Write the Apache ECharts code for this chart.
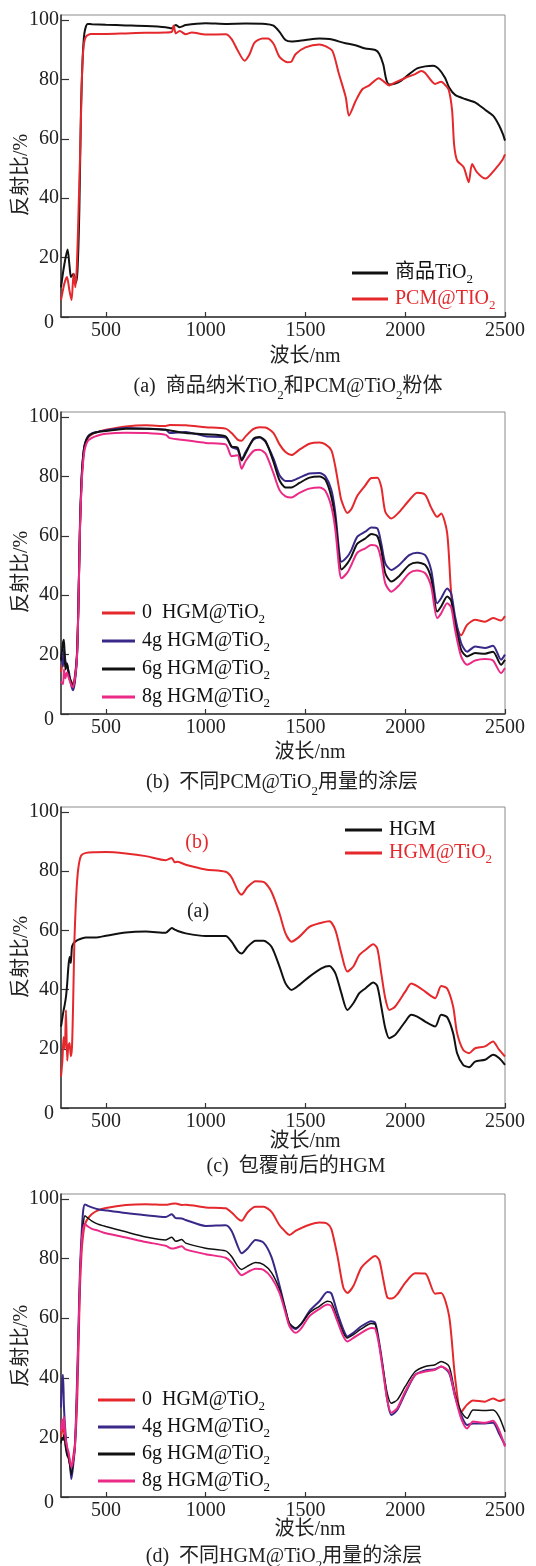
<!DOCTYPE html>
<html><head><meta charset="utf-8">
<script src="https://cdn.jsdelivr.net/npm/echarts@6/dist/echarts.min.js"></script>
<style>html,body{margin:0;padding:0;background:#fff}#c{width:536px;height:1566px}</style>
</head><body><div id="c"></div>
<script>
// ---------- data ----------
const xTicks = [500, 1000, 1500, 2000, 2500];
const yTicks = [0, 20, 40, 60, 80, 100];

// (a)
const aBlackX = [275,290,308,318,325,338,350,358,367,375,383,392,408,430,500,600,700,800,830,850,870,900,1000,1100,1200,1300,1340,1370,1400,1430,1500,1570,1620,1700,1750,1800,1850,1870,1890,1905,1920,1950,1980,2020,2060,2100,2140,2170,2200,2220,2250,2300,2350,2400,2440,2470,2490,2500];
const aBlackY = [10,17,22.7,17,13.5,14.6,11.5,16,36,69.6,86.4,95.4,98.7,98.6,98.4,98.2,98,97.6,97.2,98.3,97.6,98.3,98.9,98.7,98.8,98.7,98.1,96,93.3,92.8,93.3,93.8,93.6,92.2,91.5,90.4,89.9,88.6,85,80,78.3,78.6,79.6,81.8,83.7,84.4,84.6,83.4,80.5,77.3,74.8,73.4,72.3,69.8,67.8,64.6,61.5,59.4];
const aRedX = [275,292,305,317,328,338,347,355,363,372,380,388,400,425,500,600,700,800,830,840,850,870,900,930,1000,1100,1130,1160,1195,1220,1245,1285,1310,1340,1370,1410,1430,1450,1500,1570,1600,1635,1668,1702,1718,1752,1785,1818,1868,1898,1920,1950,2000,2050,2080,2100,2150,2180,2202,2218,2235,2245,2260,2293,2318,2335,2360,2402,2452,2485,2500];
const aRedY = [5.7,11.3,13.5,9,5.7,14.6,10,18,36,58,81,91,94.4,95.3,95.3,95.5,95.7,95.8,96,98.2,95.5,96.3,95.2,95.8,95.1,95.2,93.6,89.8,86.3,88.5,92.4,93.8,93.8,92,87.6,85.8,86,88.5,90.8,91.8,91.2,89.6,81.8,74,67.8,72.8,76.7,77.9,80.4,79,78,79,80.5,81.8,82.8,82.2,78.5,79.2,78,76.5,69.5,58,52.7,50.4,45.4,51.5,48.7,46.6,49.9,52.7,54.8];

// (b)
const bX = [275,285,290,297,305,315,325,335,345,355,362,370,378,386,395,410,430,460,500,600,700,800,820,900,1000,1100,1130,1160,1180,1200,1240,1270,1300,1340,1370,1400,1430,1470,1520,1570,1600,1630,1650,1670,1680,1710,1730,1760,1800,1830,1860,1880,1900,1930,1970,2020,2060,2100,2130,2160,2180,2210,2230,2250,2280,2310,2350,2400,2440,2480,2500];
const b0Y = [14,18,20,16,17,12,11,10,13,20,36,62,78,86,90.5,93,94.2,95,95.7,96.8,97.2,97,97.3,97.2,96.6,96.1,94.6,92.4,92,93.5,96,96.6,96.5,94.6,90.8,88.2,87.2,89,91,91.4,90.8,88.8,83.2,75.4,72,67.7,69,73.5,77,79.5,79.6,76.5,68.1,65.8,68,72,74.5,73.8,69.5,66.4,67.5,61,41,31,26.5,30,31.7,31.1,32.3,31.5,33];
const b4Y = [20,16,22,18,16,14,10,8,11,19,36,64,79,87,91,93.5,94.5,95,95.5,96.3,96.1,95.7,94.6,95,93.5,93.1,89.9,89,85.7,88.2,92.4,93.1,91.6,86,80.4,78.5,78.5,79.6,81,81.2,80,75.4,67.5,54.1,51.3,53,55.2,59.7,61.4,62.8,62.5,57.4,50.7,48.5,50.2,53.5,54.3,53.5,48.5,37.3,39,42.3,40.6,32.8,23.9,21,22.7,22.2,23,18.3,20];
const b6Y = [18,24,25,15,17,13,11,9,12,20,36,63,79,87,91,93.3,94.4,95,95.3,96.1,96.1,95.7,95.5,94.6,94.2,93.5,90.1,89.7,85.4,87.7,92.7,93.3,91.9,84.9,78.7,76.3,76.3,77.8,79.6,80,78.9,73.1,65.3,51.8,48.7,50.7,53,57.4,59.1,60.6,59.9,55.2,47.4,44.6,46.5,50.2,51,50.2,45.7,34.5,36.2,39.6,38.2,30.6,21.6,19.4,20.5,20.3,21,16.6,18.3];
const b8Y = [11,10,15,12,14,12,10,9,12,19,35,62,77,85,89.5,92,93,93.8,94.4,94.7,94.6,94,92.9,92.2,91.3,90.8,86.8,87.1,82.6,85.2,88.6,89,87.7,81,75.4,73.3,72.9,74.5,75.9,76.3,75.1,69.8,61.9,48.5,45.7,47.6,50.2,54.3,55.8,56.9,56.3,51.8,44,41.2,43.4,47.4,48.3,47.4,42.9,32.3,33.9,37.3,36,28.3,19.4,16.6,18,18.5,18,13.8,15.5];

// (c)
const cX = [275,282,288,294,300,306,312,318,324,330,336,342,350,360,375,400,450,500,600,700,800,830,845,860,900,1000,1100,1130,1160,1180,1210,1250,1290,1330,1370,1400,1430,1470,1520,1580,1620,1650,1680,1710,1740,1770,1800,1840,1860,1880,1900,1920,1950,2000,2030,2060,2100,2150,2180,2210,2240,2260,2290,2320,2350,2400,2440,2470,2500];
const cHgmY = [27.5,30.5,33,35,37.6,42,47.7,51,49,54.5,55.4,56,56.4,56.8,57.2,57.6,57.6,58.2,59.3,59.6,59.2,60.8,60.3,59.8,59,58.1,58.1,56.2,53.1,52.2,54.5,56.5,56.5,54.5,47.8,42.1,39.9,41.6,44.4,47.2,48,45.5,38.8,33.1,35.4,38.8,40.4,42.4,41.2,34.3,27,23.6,24.7,29.2,31.5,30.9,29.2,27.5,31.5,30.7,25.3,18.5,14.6,13.8,15.7,16.3,18,16.9,14.6];
const cTiY = [10.6,16,24,20,33,16,21,22,17.5,20.5,36,56,70,80,85.2,86.2,86.4,86.5,86,85.1,83.7,84.5,83,83.2,82.2,80.6,79.8,77.9,73.6,72.1,74.7,76.6,76.4,73,65.7,59,56.2,57.9,61.2,62.6,63.1,60.1,52.2,46.1,47.8,51.7,53.4,55.3,53.9,45.5,37.1,33.1,34.3,39.3,42.1,41.2,39.3,37.1,41.2,40.4,34.3,25.3,19.7,18.5,20.2,20.8,22.5,19.7,17.4];

// (d)
const dX = [275,280,285,290,297,305,313,320,327,335,345,355,362,370,378,386,395,410,430,460,500,600,700,800,830,850,880,900,1000,1100,1130,1160,1180,1210,1250,1290,1330,1370,1400,1420,1450,1480,1520,1570,1610,1630,1660,1690,1710,1740,1780,1830,1850,1870,1890,1910,1930,1960,2000,2050,2100,2150,2180,2220,2250,2280,2310,2340,2400,2440,2470,2500];
const d0Y = [20,22,24,22,18,15,13,11,10,13,18,30,48,70,82,88,91.5,93.5,95,96.2,97,98,98.3,98.1,98.4,98.5,98,98.1,97.2,96.9,95.5,93.5,92.7,95.5,97.4,97.4,95.7,91.2,89,87.9,89.3,90.3,91.4,92.1,91.7,89.9,81,70.2,68.5,70.8,77,80.2,80.9,79.5,73,67,66.6,68,71.9,75.1,75,68.2,68.5,60.7,40,28.5,31,32.4,32,33.1,32.2,32.8];
const d4Y = [30,38,41,30,22,16,14,11,6,10,17,38,55,76,88,96,98.2,97.7,97.2,96.6,96.2,95.3,94.6,94,94.9,93.6,93.5,93,91,91.2,89.3,84.3,81.8,83.4,86.3,85.4,80.5,71,62.9,57.9,56.4,58.2,62.4,65.7,68.8,68.3,61.8,56.2,53.9,55.1,57.3,59,58.4,51.7,42.7,32.6,27.5,29.2,34.8,41,42.5,42.9,43.8,41.6,33.7,27.5,24.2,24.7,24.7,24.9,21.3,17.4];
const d6Y = [18,20,19,21,17,14,13,10,7.5,11,17,36,54,74,86,91.5,94.4,93.6,92.6,91.6,90.8,89,87.3,86.3,87.2,85.8,86.4,85.2,83.5,82.6,80.7,77.5,76.4,77.5,78.7,78,75.3,69.7,62.9,58.4,56.7,58.2,61.8,64,65.7,65.3,60.1,55.1,53.4,54.5,56.4,58.2,57.9,51.1,42.7,34.8,31.5,32.6,37.1,42.1,43.8,44.4,45.5,43.8,34.8,28.7,26.4,29.2,29,29.2,27,21.9];
const d8Y = [22,26,23,27,20,17,15,12,10,12,17,35,53,73,85,90,91.6,90.8,90,89.4,88.5,87.1,85.6,84.3,83.4,83.6,84.2,83.1,81.5,80.3,78.7,75.8,74.4,75.5,76.6,76.2,73.6,68.5,61.8,57.3,55.1,56.7,60.7,63.1,64.6,64,59,53.9,52.2,53.4,55.1,56.7,56.4,50.6,41.6,32.6,28.3,29.8,35.4,41,42.1,42.7,43.8,42.1,33.7,26.4,23,25.3,24.9,25.6,22.5,16.9];

// ---------- style ----------
const FONT = "'Liberation Serif','Times New Roman','Noto Sans CJK SC',serif";
const RED = '#e4282c', BLUE = '#3a2888', BLACK = '#111111', PINK = '#ea2a86';
const SUB = { fontSize: 13, fontFamily: FONT, verticalAlign: 'top', padding: [12, 0, 0, 0], lineHeight: 13 };

const LABELS = {
  a1: '商品TiO{s|2}', a2: 'PCM@TIO{s|2}',
  b0: '0  HGM@TiO{s|2}', b4: '4g HGM@TiO{s|2}', b6: '6g HGM@TiO{s|2}', b8: '8g HGM@TiO{s|2}',
  c1: 'HGM', c2: 'HGM@TiO{s|2}',
  d0: '0  HGM@TiO{s|2}', d4: '4g HGM@TiO{s|2}', d6: '6g HGM@TiO{s|2}', d8: '8g HGM@TiO{s|2}'
};

function zip(xs, ys) { return xs.map((x, i) => [x, ys[i]]); }

const GRIDS = [
  { left: 61, top: 15, width: 444, height: 302 },
  { left: 61, top: 412, width: 444, height: 302 },
  { left: 61, top: 807, width: 444, height: 301 },
  { left: 61, top: 1194, width: 444, height: 303 }
];

const grids = GRIDS.map(g => Object.assign({ show: true, borderColor: '#8a8a8a', borderWidth: 1, backgroundColor: 'transparent' }, g));

const xAxes = GRIDS.map((g, i) => ({
  type: 'value', gridIndex: i, min: 275, max: 2500,
  axisLine: { show: true, lineStyle: { color: '#333', width: 1.5 } },
  axisTick: { show: true, inside: true, length: 5, customValues: xTicks, lineStyle: { color: '#333', width: 1.2 } },
  axisLabel: { customValues: xTicks, margin: 4, color: '#222', fontFamily: FONT, fontSize: 20, formatter: v => String(v) },
  splitLine: { show: false }
}));

const yAxes = GRIDS.map((g, i) => ({
  type: 'value', gridIndex: i, min: 0, max: 101.7,
  axisLine: { show: true, lineStyle: { color: '#333', width: 1.5 } },
  axisTick: { show: true, inside: true, length: 8, customValues: yTicks, lineStyle: { color: '#333', width: 1.2 } },
  axisLabel: {
    customValues: yTicks, margin: 2, color: '#222', fontFamily: FONT, fontSize: 20,
    formatter: v => v === 0 ? '{z|0}' : String(v),
    rich: { z: { fontFamily: FONT, fontSize: 20, color: '#222', padding: [12, 5, 0, 0] } }
  },
  splitLine: { show: false }
}));

function line(name, idx, xs, ys, color, w) {
  return {
    name: name, type: 'line', xAxisIndex: idx, yAxisIndex: idx,
    data: zip(xs, ys), showSymbol: false, symbol: 'none', smooth: 0.25,
    lineStyle: { color: color, width: w || 2 }, itemStyle: { color: color },
    animation: false
  };
}

const series = [
  line('a1', 0, aBlackX, aBlackY, BLACK),
  line('a2', 0, aRedX, aRedY, RED),
  line('b0', 1, bX, b0Y, RED),
  line('b4', 1, bX, b4Y, BLUE),
  line('b6', 1, bX, b6Y, BLACK),
  line('b8', 1, bX, b8Y, PINK),
  line('c1', 2, cX, cHgmY, BLACK),
  line('c2', 2, cX, cTiY, RED),
  line('d0', 3, dX, d0Y, RED),
  line('d4', 3, dX, d4Y, BLUE),
  line('d6', 3, dX, d6Y, BLACK, 1.5),
  line('d8', 3, dX, d8Y, PINK)
];

function legend(names, colors, left, top, w, gap) {
  return {
    orient: 'vertical', left: left, top: top, itemWidth: w, itemHeight: 3, itemGap: gap,
    icon: 'rect', selectedMode: false,
    data: names.map((n, i) => ({ name: n, textStyle: { color: colors[i] } })),
    formatter: n => LABELS[n],
    textStyle: { fontFamily: FONT, fontSize: 20, lineHeight: 24, padding: [0, 0, 0, 2], rich: { s: SUB } }
  };
}

const legends = [
  legend(['a1', 'a2'], [BLACK, RED], 347, 256, 36, 1),
  legend(['b0', 'b4', 'b6', 'b8'], ['#111', '#111', '#111', '#111'], 97, 596, 33, 3),
  legend(['c1', 'c2'], [BLACK, RED], 340, 813, 37, -1),
  legend(['d0', 'd4', 'd6', 'd8'], ['#111', '#111', '#111', '#111'], 93, 1383, 37, 2)
];

function txt(x, y, text, opts) {
  return {
    type: 'text', x: x, y: y, rotation: (opts && opts.rot) || 0, silent: true,
    style: {
      text: text, fontFamily: FONT, fontSize: 20, fill: (opts && opts.color) || '#222',
      align: 'center', verticalAlign: 'middle', rich: { s: SUB }
    }
  };
}

const graphics = [
  txt(22, 175, '反射比/%', { rot: Math.PI / 2 }),
  txt(22, 572, '反射比/%', { rot: Math.PI / 2 }),
  txt(22, 957, '反射比/%', { rot: Math.PI / 2 }),
  txt(22, 1346, '反射比/%', { rot: Math.PI / 2 }),
  txt(305, 357, '波长/nm'),
  txt(310, 753, '波长/nm'),
  txt(305, 1142, '波长/nm'),
  txt(310, 1530, '波长/nm'),
  txt(288, 387, '(a)  商品纳米TiO{s|2}和PCM@TiO{s|2}粉体'),
  txt(282, 783, '(b)  不同PCM@TiO{s|2}用量的涂层'),
  txt(296, 1167, '(c)  包覆前后的HGM'),
  txt(284, 1557, '(d)  不同HGM@TiO{s|2}用量的涂层'),
  txt(197, 843, '(b)', { color: RED }),
  txt(198, 912, '(a)', { color: '#222' })
];

const chart = echarts.init(document.getElementById('c'), null, { renderer: 'canvas' });
chart.setOption({
  backgroundColor: '#fff',
  animation: false,
  grid: grids,
  xAxis: xAxes,
  yAxis: yAxes,
  legend: legends,
  series: series,
  graphic: graphics
});
</script>
</body></html>
